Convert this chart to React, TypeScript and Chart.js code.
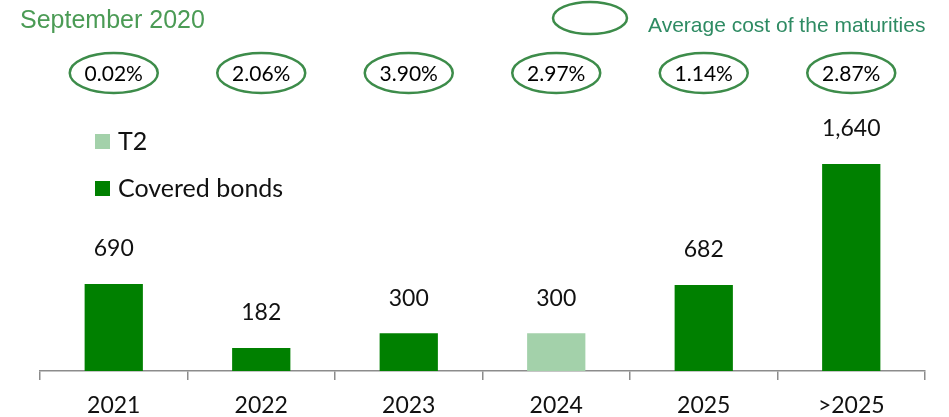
import React, { useEffect, useRef } from "react";
import { Chart, registerables } from "chart.js";

Chart.register(...registerables);

const categories = ["2021", "2022", "2023", "2024", "2025", ">2025"];
const coveredBonds = [690, 182, 300, 0, 682, 1640];
const t2 = [0, 0, 0, 300, 0, 0];
const totalLabels = ["690", "182", "300", "300", "682", "1,640"];
const avgCost = ["0.02%", "2.06%", "3.90%", "2.97%", "1.14%", "2.87%"];

const DARK = "#008000";
const LIGHT = "#a3d1aa";
const OVAL = "#3d8c4a";

export default function App() {
  const ref = useRef<HTMLCanvasElement | null>(null);
  useEffect(() => {
    if (!ref.current) return;
    const overlay = {
      id: "overlay",
      afterDatasetsDraw(chart: any) {
        const ctx = chart.ctx as CanvasRenderingContext2D;
        const x = chart.scales.x;
        ctx.save();
        // title
        ctx.fillStyle = "#4b9b55";
        ctx.font = '25px "Liberation Sans", Arial, sans-serif';
        ctx.textAlign = "left";
        ctx.textBaseline = "middle";
        ctx.fillText("September 2020", 20, 21);
        // legend oval
        ctx.strokeStyle = OVAL;
        ctx.lineWidth = 2.5;
        ctx.beginPath();
        ctx.ellipse(590, 18, 37, 16, 0, 0, Math.PI * 2);
        ctx.stroke();
        ctx.fillStyle = "#2e8b63";
        ctx.font = '21px "Liberation Sans", Arial, sans-serif';
        ctx.fillText("Average cost of the maturities", 648, 26);
        // percentage ovals
        ctx.textAlign = "center";
        avgCost.forEach((s, i) => {
          const cx = x.getPixelForValue(i);
          ctx.beginPath();
          ctx.ellipse(cx, 73, 44, 20, 0, 0, Math.PI * 2);
          ctx.strokeStyle = OVAL;
          ctx.lineWidth = 2.5;
          ctx.stroke();
          ctx.fillStyle = "#000";
          ctx.font = '21px Lato, sans-serif';
          ctx.fillText(s, cx, 74);
        });
        // value labels
        const meta0 = chart.getDatasetMeta(0).data;
        const meta1 = chart.getDatasetMeta(1).data;
        ctx.font = '23px Lato, sans-serif';
        ctx.fillStyle = "#111";
        totalLabels.forEach((s, i) => {
          const top = Math.min(meta0[i].y, meta1[i].y);
          ctx.fillText(s, meta0[i].x, top - 35);
        });
        // legend
        ctx.textAlign = "left";
        ctx.fillStyle = LIGHT;
        ctx.fillRect(95, 134, 15, 15);
        ctx.fillStyle = DARK;
        ctx.fillRect(95, 181, 15, 15);
        ctx.fillStyle = "#111";
        ctx.font = '25px Lato, sans-serif';
        ctx.fillText("T2", 118, 142);
        ctx.fillText("Covered bonds", 118, 189);
        ctx.restore();
      },
    };
    const chart = new Chart(ref.current, {
      type: "bar",
      data: {
        labels: categories,
        datasets: [
          { label: "Covered bonds", data: coveredBonds, backgroundColor: DARK },
          { label: "T2", data: t2, backgroundColor: LIGHT },
        ],
      },
      options: {
        animation: false,
        responsive: true,
        maintainAspectRatio: false,
        layout: { padding: { left: 40, right: 24, top: 118.6, bottom: 0 } },
        plugins: { legend: { display: false }, tooltip: { enabled: false }, title: { display: false } },
        datasets: { bar: { categoryPercentage: 1, barPercentage: 0.395 } },
        scales: {
          x: {
            stacked: true,
            offset: true,
            afterFit: (s: any) => { s.height = 46; },
            grid: { offset: true, drawOnChartArea: false, drawTicks: true, tickLength: 9, color: "#8c8c8c", lineWidth: 1.5 },
            border: { display: true, color: "#8c8c8c", width: 1.5 },
            ticks: { color: "#111", font: { family: "Lato", size: 23 }, padding: 12 },
          },
          y: { stacked: true, display: false, min: 0, max: 2000 },
        },
      },
      plugins: [overlay],
    });
    return () => chart.destroy();
  }, []);
  return (
    <div style={{ position: "absolute", left: 0, top: 0, width: 949, height: 417 }}>
      <canvas ref={ref} />
    </div>
  );
}
